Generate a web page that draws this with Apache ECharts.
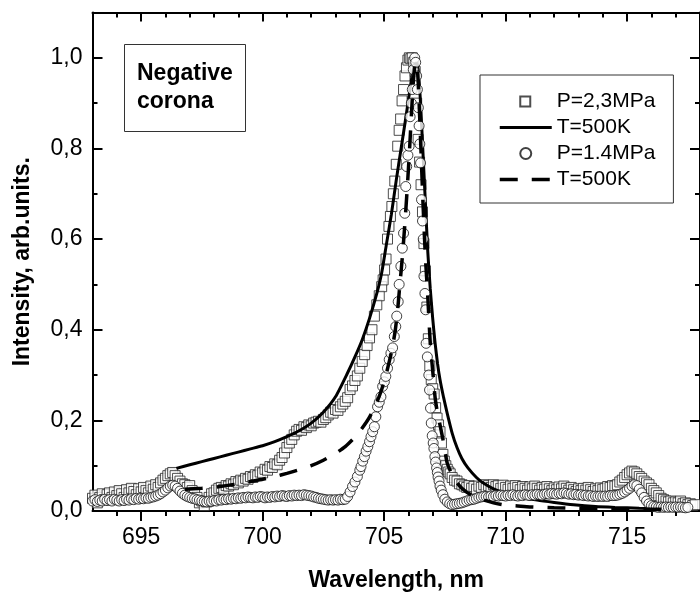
<!DOCTYPE html>
<html><head><meta charset="utf-8">
<script src="https://cdn.jsdelivr.net/npm/echarts@6/dist/echarts.min.js"></script>
<style>html,body{margin:0;padding:0;background:#fff;overflow:hidden}#c{width:700px;height:597px}</style>
</head><body><div id="c"></div><script>
// ---- data ----
const xMajor = [695, 700, 705, 710, 715];
const xMinor = [694, 696, 697, 698, 699, 701, 702, 703, 704, 706, 707, 708, 709, 711, 712, 713, 714, 716, 717];
const yMajor = [0, 0.2, 0.4, 0.6, 0.8, 1.0];
const yMinor = [0.1, 0.3, 0.5, 0.7, 0.9];

// P=2,3MPa measured points [wavelength nm, intensity]
const sq23 = [
[693.0,0.028],[693.1,0.035],[693.2,0.018],[693.3,0.030],[693.4,0.038],[693.5,0.025],[693.6,0.036],[693.7,0.040],[693.8,0.030],[693.9,0.042],
[694.0,0.034],[694.1,0.045],[694.2,0.038],[694.3,0.030],[694.4,0.047],[694.5,0.040],[694.6,0.050],[694.7,0.043],[694.8,0.036],[694.9,0.049],
[695.0,0.042],[695.1,0.052],[695.2,0.045],[695.3,0.040],[695.4,0.055],[695.5,0.048],[695.6,0.058],[695.7,0.052],[695.8,0.062],[695.9,0.068],
[696.0,0.072],[696.1,0.078],[696.2,0.082],[696.3,0.085],[696.4,0.078],[696.5,0.072],[696.6,0.066],[696.7,0.060],[696.8,0.058],[696.9,0.052],
[697.0,0.056],[697.1,0.045],[697.2,0.040],[697.3,0.030],[697.4,0.018],[697.5,0.022],[697.6,0.012],[697.7,0.020],[697.8,0.030],[697.9,0.038],
[698.0,0.040],[698.1,0.046],[698.2,0.050],[698.3,0.052],[698.4,0.048],[698.5,0.056],[698.6,0.055],[698.7,0.060],[698.8,0.058],[698.9,0.065],
[699.0,0.062],[699.1,0.068],[699.2,0.066],[699.3,0.072],[699.4,0.070],[699.5,0.076],[699.6,0.074],[699.7,0.080],[699.8,0.078],[699.9,0.086],
[700.0,0.084],[700.1,0.092],[700.2,0.090],[700.3,0.098],[700.4,0.096],[700.5,0.104],[700.6,0.102],[700.7,0.112],[700.8,0.118],[700.9,0.128],
[701.0,0.140],[701.1,0.150],[701.2,0.158],[701.3,0.168],[701.4,0.176],[701.5,0.180],[701.6,0.178],[701.7,0.186],[701.8,0.184],[701.9,0.190],
[702.0,0.188],[702.1,0.194],[702.2,0.196],[702.3,0.198],[702.4,0.196],[702.5,0.202],[702.6,0.206],[702.7,0.212],[702.8,0.218],[702.9,0.216],
[703.0,0.224],[703.1,0.222],[703.2,0.230],[703.3,0.236],[703.4,0.242],[703.5,0.250],[703.6,0.268],[703.7,0.276],[703.8,0.288],[703.9,0.298],
[704.0,0.315],[704.1,0.330],[704.2,0.345],[704.3,0.365],[704.4,0.382],[704.5,0.400],[704.6,0.430],[704.7,0.455],[704.8,0.475],[704.9,0.495],
[704.96,0.510],[705.02,0.532],[705.08,0.556],[705.14,0.600],[705.20,0.628],[705.26,0.650],[705.32,0.672],[705.38,0.700],[705.44,0.728],[705.50,0.765],
[705.56,0.805],[705.62,0.840],[705.68,0.865],[705.74,0.905],[705.80,0.930],[705.86,0.960],[705.92,0.978],[705.98,0.995],[706.04,1.000],[706.10,0.998],
[706.16,1.000],[706.22,0.990],[706.28,0.970],[706.34,0.900],[706.40,0.820],[706.46,0.770],[706.52,0.720],[706.58,0.660],[706.64,0.590],[706.70,0.530],
[706.76,0.450],[706.82,0.380],[706.88,0.320],[706.94,0.290],[707.00,0.270],[707.06,0.258],[707.12,0.228],[707.18,0.205],[707.24,0.190],[707.30,0.175],
[707.36,0.150],[707.42,0.125],[707.48,0.110],[707.54,0.100],[707.60,0.092],[707.66,0.086],[707.72,0.082],[707.80,0.074],[707.90,0.068],[708.00,0.066],
[708.1,0.060],[708.2,0.058],[708.3,0.055],[708.4,0.052],[708.5,0.056],[708.6,0.050],[708.7,0.054],[708.8,0.048],[708.9,0.055],[709.0,0.052],
[709.1,0.058],[709.2,0.050],[709.3,0.056],[709.4,0.052],[709.5,0.058],[709.6,0.054],[709.7,0.056],[709.8,0.050],[709.9,0.057],[710.0,0.052],
[710.1,0.048],[710.2,0.055],[710.3,0.050],[710.4,0.056],[710.5,0.052],[710.6,0.047],[710.7,0.054],[710.8,0.050],[710.9,0.046],[711.0,0.053],
[711.1,0.049],[711.2,0.055],[711.3,0.050],[711.4,0.046],[711.5,0.052],[711.6,0.048],[711.7,0.054],[711.8,0.049],[711.9,0.045],[712.0,0.051],
[712.1,0.047],[712.2,0.053],[712.3,0.049],[712.4,0.055],[712.5,0.050],[712.6,0.046],[712.7,0.052],[712.8,0.047],[712.9,0.043],[713.0,0.049],
[713.1,0.045],[713.2,0.050],[713.3,0.046],[713.4,0.052],[713.5,0.047],[713.6,0.043],[713.7,0.049],[713.8,0.045],[713.9,0.051],[714.0,0.048],
[714.1,0.050],[714.2,0.054],[714.3,0.052],[714.4,0.056],[714.5,0.055],[714.6,0.058],[714.7,0.064],[714.8,0.068],[714.9,0.074],[715.0,0.080],
[715.1,0.084],[715.2,0.088],[715.3,0.086],[715.4,0.082],[715.5,0.076],[715.6,0.072],[715.7,0.066],[715.8,0.062],[715.9,0.058],[716.0,0.050],
[716.1,0.045],[716.2,0.040],[716.3,0.034],[716.4,0.028],[716.5,0.025],[716.6,0.022],[716.7,0.020],[716.8,0.022],[716.9,0.018],[717.0,0.020],
[717.1,0.018],[717.2,0.022],[717.3,0.016],[717.4,0.018],[717.5,0.014],[717.6,0.016],[717.7,0.012],[717.8,0.014]
];

// T=500K fit for P=2,3MPa (solid)
const fit23 = [
[696.45,0.094],[697.0,0.102],[697.5,0.109],[698.0,0.116],[698.5,0.123],[699.0,0.130],[699.5,0.137],[700.0,0.144],[700.5,0.153],[701.0,0.164],
[701.5,0.177],[702.0,0.194],[702.5,0.218],[703.0,0.252],[703.5,0.305],[703.8,0.340],[704.1,0.378],[704.4,0.425],[704.7,0.480],[704.9,0.525],
[705.1,0.590],[705.3,0.655],[705.5,0.730],[705.7,0.800],[705.9,0.870],[706.05,0.925],[706.15,0.960],[706.25,0.985],[706.32,0.990],[706.4,0.975],
[706.5,0.900],[706.6,0.790],[706.7,0.680],[706.8,0.570],[706.9,0.490],[707.0,0.425],[707.1,0.370],[707.2,0.325],[707.3,0.290],[707.45,0.250],
[707.6,0.215],[707.8,0.172],[708.0,0.140],[708.2,0.116],[708.45,0.095],[708.8,0.074],[709.1,0.061],[709.5,0.049],[710.0,0.039],[710.6,0.031],
[711.3,0.024],[712.0,0.019],[712.8,0.014],[713.7,0.010],[714.5,0.008],[715.5,0.006],[716.5,0.005],[717.2,0.004]
];

// P=1.4MPa measured points
const circ14 = [
[693.0,0.022],[693.1,0.025],[693.2,0.021],[693.3,0.024],[693.4,0.022],[693.5,0.026],[693.6,0.023],[693.7,0.025],[693.8,0.022],[693.9,0.026],
[694.0,0.024],[694.1,0.022],[694.2,0.025],[694.3,0.023],[694.4,0.026],[694.5,0.024],[694.6,0.027],[694.7,0.025],[694.8,0.028],[694.9,0.026],
[695.0,0.028],[695.1,0.027],[695.2,0.029],[695.3,0.028],[695.4,0.030],[695.5,0.031],[695.6,0.033],[695.7,0.035],[695.8,0.038],[695.9,0.042],
[696.0,0.046],[696.1,0.051],[696.2,0.055],[696.3,0.057],[696.4,0.055],[696.5,0.050],[696.6,0.044],[696.7,0.039],[696.8,0.035],[696.9,0.032],
[697.0,0.030],[697.1,0.028],[697.2,0.027],[697.3,0.025],[697.4,0.024],[697.5,0.022],[697.6,0.021],[697.7,0.020],[697.8,0.022],[697.9,0.021],
[698.0,0.023],[698.1,0.022],[698.2,0.025],[698.3,0.024],[698.4,0.026],[698.5,0.025],[698.6,0.027],[698.7,0.026],[698.8,0.028],[698.9,0.027],
[699.0,0.029],[699.1,0.028],[699.2,0.030],[699.3,0.029],[699.4,0.031],[699.5,0.030],[699.6,0.029],[699.7,0.031],[699.8,0.030],[699.9,0.032],
[700.0,0.031],[700.1,0.029],[700.2,0.031],[700.3,0.030],[700.4,0.032],[700.5,0.031],[700.6,0.033],[700.7,0.032],[700.8,0.034],[700.9,0.033],
[701.0,0.032],[701.1,0.034],[701.2,0.033],[701.3,0.035],[701.4,0.034],[701.5,0.035],[701.6,0.034],[701.7,0.036],[701.8,0.035],[701.9,0.034],
[702.0,0.033],[702.1,0.031],[702.2,0.030],[702.3,0.028],[702.4,0.027],[702.5,0.026],[702.6,0.025],[702.7,0.024],[702.8,0.025],[702.9,0.024],
[703.0,0.025],[703.1,0.024],[703.2,0.026],[703.3,0.025],[703.4,0.026],[703.5,0.032],[703.6,0.042],[703.7,0.054],[703.8,0.064],[703.9,0.076],
[704.0,0.090],[704.05,0.098],[704.12,0.110],[704.19,0.120],[704.26,0.132],[704.33,0.142],[704.40,0.153],[704.46,0.164],[704.53,0.175],[704.60,0.186],
[704.66,0.208],[704.73,0.230],[704.80,0.240],[704.87,0.252],[704.94,0.275],[705.01,0.285],[705.07,0.297],[705.14,0.315],[705.21,0.334],[705.28,0.348],
[705.35,0.360],[705.42,0.385],[705.48,0.407],[705.52,0.430],[705.58,0.462],[705.62,0.500],[705.69,0.540],[705.75,0.580],[705.80,0.613],[705.85,0.657],
[705.89,0.716],[705.93,0.760],[705.98,0.785],[706.03,0.805],[706.07,0.870],[706.12,0.900],[706.16,0.930],[706.20,0.974],[706.26,1.000],[706.30,0.990],
[706.34,0.960],[706.37,0.930],[706.41,0.890],[706.44,0.850],[706.47,0.810],[706.50,0.768],[706.54,0.687],[706.58,0.640],[706.61,0.600],[706.64,0.518],
[706.68,0.480],[706.71,0.444],[706.73,0.370],[706.78,0.340],[706.84,0.300],[706.87,0.267],[706.91,0.227],[706.94,0.194],[706.98,0.166],[707.02,0.150],
[707.05,0.138],[707.09,0.120],[707.12,0.108],[707.16,0.095],[707.19,0.085],[707.22,0.075],[707.26,0.066],[707.30,0.055],[707.35,0.046],[707.42,0.036],
[707.5,0.026],[707.6,0.020],[707.7,0.016],[707.8,0.014],[707.9,0.015],[708.0,0.016],[708.1,0.017],[708.2,0.018],[708.3,0.020],[708.4,0.022],
[708.5,0.024],[708.6,0.025],[708.7,0.026],[708.8,0.028],[708.9,0.030],[709.0,0.031],[709.1,0.032],[709.2,0.032],[709.3,0.031],[709.4,0.033],
[709.5,0.032],[709.6,0.034],[709.7,0.033],[709.8,0.035],[709.9,0.034],[710.0,0.033],[710.1,0.035],[710.2,0.034],[710.3,0.036],[710.4,0.034],
[710.5,0.033],[710.6,0.035],[710.7,0.034],[710.8,0.036],[710.9,0.035],[711.0,0.034],[711.1,0.036],[711.2,0.035],[711.3,0.037],[711.4,0.036],
[711.5,0.035],[711.6,0.037],[711.7,0.038],[711.8,0.037],[711.9,0.039],[712.0,0.038],[712.1,0.037],[712.2,0.039],[712.3,0.038],[712.4,0.040],
[712.5,0.039],[712.6,0.037],[712.7,0.038],[712.8,0.036],[712.9,0.037],[713.0,0.035],[713.1,0.036],[713.2,0.034],[713.3,0.035],[713.4,0.033],
[713.5,0.034],[713.6,0.032],[713.7,0.033],[713.8,0.032],[713.9,0.033],[714.0,0.032],[714.1,0.033],[714.2,0.032],[714.3,0.034],[714.4,0.034],
[714.5,0.034],[714.6,0.035],[714.7,0.037],[714.8,0.039],[714.9,0.042],[715.0,0.046],[715.1,0.050],[715.2,0.055],[715.3,0.058],[715.4,0.056],
[715.5,0.048],[715.6,0.040],[715.7,0.030],[715.8,0.022],[715.9,0.016],[716.0,0.012],[716.1,0.010],[716.2,0.009],[716.3,0.008],[716.4,0.009],
[716.5,0.008],[716.6,0.009],[716.7,0.008],[716.8,0.009],[716.9,0.008],[717.0,0.009],[717.1,0.008],[717.2,0.009],[717.3,0.008],[717.4,0.007],[717.5,0.008]
];

// T=500K fit for P=1.4MPa (dashed)
const fit14 = [
[696.8,0.048],[697.5,0.050],[698.0,0.052],[698.5,0.056],[699.0,0.060],[699.5,0.065],[700.0,0.070],[700.5,0.076],[701.0,0.083],[701.5,0.091],
[702.0,0.100],[702.5,0.112],[703.0,0.127],[703.4,0.142],[703.8,0.163],[704.1,0.183],[704.4,0.207],[704.7,0.240],[704.9,0.268],[705.1,0.305],
[705.3,0.350],[705.45,0.395],[705.55,0.440],[705.65,0.500],[705.75,0.560],[705.85,0.630],[705.95,0.710],[706.05,0.800],[706.13,0.880],[706.2,0.945],
[706.27,0.985],[706.33,0.990],[706.4,0.950],[706.5,0.820],[706.6,0.680],[706.7,0.560],[706.8,0.470],[706.9,0.370],[707.0,0.310],[707.1,0.250],
[707.2,0.215],[707.3,0.190],[707.45,0.150],[707.6,0.105],[707.8,0.080],[707.95,0.066],[708.2,0.050],[708.5,0.038],[709.0,0.026],[709.5,0.018],
[710.0,0.013],[710.5,0.011],[711.0,0.009],[712.0,0.007],[713.0,0.006],[714.0,0.005],[715.0,0.005],[716.0,0.004],[717.0,0.004]
];

// ---- chart ----
const FONT = "'Liberation Sans', Arial, sans-serif";
const X_MIN = 693, X_MAX = 718, Y_MIN = 0, Y_MAX = 1.1;

function xAx(pos, ticks, len, inside, extra) {
  return Object.assign({
    type: 'value', position: pos, min: X_MIN, max: X_MAX,
    axisLine: { show: false, onZero: false },
    axisTick: { show: true, customValues: ticks, length: len, inside: inside, lineStyle: { color: '#000', width: 2 } },
    axisLabel: { show: false },
    splitLine: { show: false }
  }, extra || {});
}
function yAx(pos, ticks, len, inside, extra) {
  return Object.assign({
    type: 'value', position: pos, min: Y_MIN, max: Y_MAX,
    axisLine: { show: false, onZero: false },
    axisTick: { show: true, customValues: ticks, length: len, inside: inside, lineStyle: { color: '#000', width: 2 } },
    axisLabel: { show: false },
    splitLine: { show: false }
  }, extra || {});
}

// legend square icon: degenerate end points keep the box 52x11 so the square is not stretched
const SQUARE_ICON = 'path://M0,0L0,0M20.5,0.5h10v10h-10ZM52,11L52,11';
const hideDot = { opacity: 0 };

const chart = echarts.init(document.getElementById('c'), null, { renderer: 'canvas' });
chart.setOption({
  animation: false,
  backgroundColor: '#fff',
  grid: { left: 92.5, top: 12.5, right: -4.5, bottom: 86, containLabel: false },
  title: {
    text: 'Negative\ncorona', left: 124, top: 44,
    padding: [16, 13, 16, 13], borderColor: '#333', borderWidth: 1,
    textStyle: { fontSize: 23, fontWeight: 'bold', fontFamily: FONT, color: '#000', lineHeight: 28 }
  },
  legend: {
    orient: 'vertical', left: 480, top: 75,
    padding: [16, 18, 13, 18], itemWidth: 52, itemHeight: 11, itemGap: 5,
    backgroundColor: '#fff', borderColor: '#333', borderWidth: 1,
    selectedMode: false,
    textStyle: { fontSize: 21, fontFamily: FONT, color: '#000', lineHeight: 21 },
    formatter: n => n.trim(),
    data: [
      { name: 'P=2,3MPa', icon: SQUARE_ICON },
      { name: 'T=500K', itemStyle: hideDot, lineStyle: { width: 3 } },
      { name: 'P=1.4MPa' },
      { name: 'T=500K ', itemStyle: hideDot, lineStyle: { width: 3.5, type: [18, 14] } }
    ]
  },
  xAxis: [
    xAx('bottom', xMajor, 10, false, {
      axisLine: { show: true, onZero: false, lineStyle: { color: '#000', width: 2 } },
      axisLabel: { show: true, customValues: xMajor, margin: 15, fontSize: 23, fontFamily: FONT, color: '#000' },
      name: 'Wavelength, nm', nameLocation: 'middle', nameGap: 58,
      nameTextStyle: { fontSize: 23, fontWeight: 'bold', fontFamily: FONT, color: '#000' }
    }),
    xAx('bottom', xMinor, 5, false),
    xAx('top', xMajor, 9, true, { axisLine: { show: true, onZero: false, lineStyle: { color: '#000', width: 2 } } }),
    xAx('top', xMinor, 5, true)
  ],
  yAxis: [
    yAx('left', yMajor, 10, true, {
      axisLine: { show: true, onZero: false, lineStyle: { color: '#000', width: 2 } },
      axisLabel: { show: true, customValues: yMajor, margin: 10, fontSize: 23, fontFamily: FONT, color: '#000',
                   formatter: v => v.toFixed(1).replace('.', ',') },
      name: 'Intensity, arb.units.', nameLocation: 'middle', nameGap: 58,
      nameTextStyle: { fontSize: 23, fontWeight: 'bold', fontFamily: FONT, color: '#000' }
    }),
    yAx('left', yMinor, 5, true),
    yAx('right', yMajor, 10, true, { axisLine: { show: true, onZero: false, lineStyle: { color: '#000', width: 2 } } }),
    yAx('right', yMinor, 5, true)
  ],
  series: [
    { type: 'scatter', name: 'P=2,3MPa', data: sq23, symbol: 'rect', symbolSize: 10, symbolKeepAspect: true,
      itemStyle: { color: '#fff', borderColor: '#222', borderWidth: 1 }, z: 2, silent: true },
    { type: 'line', name: 'T=500K', data: fit23, symbol: 'none', showSymbol: false, smooth: 0.2,
      lineStyle: { color: '#000', width: 3 }, itemStyle: { color: '#000' }, z: 3, silent: true },
    { type: 'scatter', name: 'P=1.4MPa', data: circ14, symbol: 'circle', symbolSize: 10, symbolKeepAspect: true,
      itemStyle: { color: '#fff', borderColor: '#111', borderWidth: 1 }, z: 4, silent: true },
    { type: 'line', name: 'T=500K ', data: fit14, symbol: 'none', showSymbol: false, smooth: 0.2,
      lineStyle: { color: '#000', width: 3.5, type: [18, 14] }, itemStyle: { color: '#000' }, z: 5, silent: true }
  ]
});
</script></body></html>
